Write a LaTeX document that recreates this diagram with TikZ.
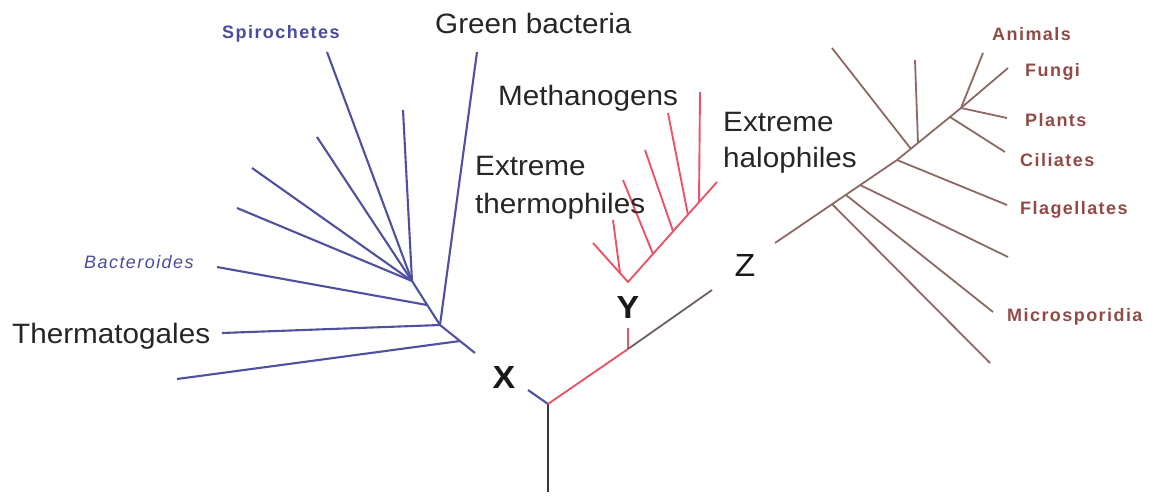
\documentclass[tikz,border=0pt]{standalone}
\usepackage{fontspec}
\setmainfont{Liberation Sans}[FakeStretch=1.06]
\newfontfamily\lblfont{Liberation Sans}[LetterSpace=8]
\definecolor{bluec}{RGB}{80,80,160}
\definecolor{redc}{RGB}{232,84,104}
\definecolor{brownc}{RGB}{140,105,100}
\definecolor{brlab}{RGB}{145,75,70}
\definecolor{bllab}{RGB}{75,75,155}
\definecolor{zc}{RGB}{110,95,95}
\definecolor{stemc}{RGB}{55,55,55}
\tikzset{
  blueline/.style={draw=bluec, line width=2.1pt},
  redline/.style={draw=redc, line width=1.9pt},
  brownline/.style={draw=brownc, line width=1.8pt},
  zline/.style={draw=zc, line width=1.8pt},
  stemline/.style={draw=stemc, line width=2.2pt},
  biglabel/.style={font=\fontsize{28}{34}\selectfont, text=black!85, inner sep=0pt, anchor=base west},
  letterlabel/.style={font=\fontsize{32}{36}\selectfont, text=black!90, inner sep=0pt},
  bluelabel/.style={font=\lblfont\bfseries\fontsize{18}{20}\selectfont, text=bllab, inner sep=0pt, anchor=base west},
  italiclabel/.style={font=\lblfont\itshape\fontsize{18}{20}\selectfont, text=bllab, inner sep=0pt, anchor=base west},
  brownlabel/.style={font=\lblfont\bfseries\fontsize{18}{20}\selectfont, text=brlab, inner sep=0pt, anchor=base west}
}
\begin{document}
\begin{tikzpicture}[x=1pt,y=-1pt]
\useasboundingbox (0,0) rectangle (1154,498);
% ---------- blue clade ----------
\coordinate (hA) at (412,281);
\coordinate (hBac) at (427,305);
\coordinate (hB) at (440,325);
\coordinate (hC) at (460,341);
\coordinate (bEnd) at (475,353);
\coordinate (xR) at (528,390);
\coordinate (root) at (548,404);
\coordinate (base) at (548,492);
\coordinate (lSpiro) at (327,52);
\coordinate (lB1) at (403,110);
\coordinate (lB2) at (317,137);
\coordinate (lB3) at (252,168);
\coordinate (lB4) at (237,208);
\coordinate (lBac) at (217,267);
\coordinate (lGreen) at (477,52);
\coordinate (lTherm) at (222,333);
\coordinate (lB5) at (177,379);
\foreach \l in {lSpiro,lB1,lB2,lB3,lB4} \draw[blueline] (\l) -- (hA);
\draw[blueline] (lBac) -- (hBac);
\draw[blueline] (lGreen) -- (hB);
\draw[blueline] (lTherm) -- (hB);
\draw[blueline] (lB5) -- (hC);
\draw[blueline] (hA) -- (hB) -- (bEnd);
\draw[blueline] (xR) -- (root);
\draw[stemline] (root) -- (base);
% ---------- red clade ----------
\coordinate (yS) at (628,349);
\coordinate (yT) at (628,328);
\coordinate (hY) at (628,282);
\coordinate (zL) at (712,290);
\coordinate (zR) at (775,243);
\draw[redline] (root) -- (yS);
\draw[redline] (yS) -- (yT);
\draw[zline] (yS) -- (zL);
\coordinate (rL) at (593,243);
\coordinate (rVj) at (620,273);
\coordinate (rV) at (613,220);
\coordinate (rE) at (717,182);
\coordinate (r2j) at (653,254);
\coordinate (r2) at (623,180);
\coordinate (r3j) at (673,231);
\coordinate (r3) at (645,150);
\coordinate (r4j) at (688,215);
\coordinate (r4) at (668,113);
\coordinate (r5j) at (699,202);
\coordinate (r5) at (700,92);
\draw[redline] (rL) -- (hY) -- (rE);
\draw[redline] (rV) -- (rVj);
\draw[redline] (r2) -- (r2j);
\draw[redline] (r3) -- (r3j);
\draw[redline] (r4) -- (r4j);
\draw[redline] (r5) -- (r5j);
% ---------- brown clade ----------
\coordinate (j1) at (832,204);
\coordinate (j2) at (846,195);
\coordinate (j3) at (860,185);
\coordinate (j4) at (897,160);
\coordinate (j5) at (911,149);
\coordinate (j5b) at (918,143);
\coordinate (j6) at (950,117);
\coordinate (top) at (961,108);
\draw[brownline] (zR) -- (j4) -- (top);
\coordinate (m1) at (990,363);
\coordinate (m2) at (993,312);
\coordinate (m3) at (1008,257);
\coordinate (mFlag) at (1007,205);
\coordinate (mLeft) at (832,48);
\coordinate (mVert) at (915,60);
\coordinate (mCil) at (1005,152);
\coordinate (mAnim) at (983,53);
\coordinate (mFung) at (1008,68);
\coordinate (mPlant) at (1007,118);
\draw[brownline] (j1) -- (m1);
\draw[brownline] (j2) -- (m2);
\draw[brownline] (j3) -- (m3);
\draw[brownline] (j4) -- (mFlag);
\draw[brownline] (mLeft) -- (j5);
\draw[brownline] (mVert) -- (j5b);
\draw[brownline] (j6) -- (mCil);
\draw[brownline] (top) -- (mAnim);
\draw[brownline] (top) -- (mFung);
\draw[brownline] (top) -- (mPlant);
% ---------- labels ----------
\node[biglabel] (tGreen) at (435,33) {Green bacteria};
\node[biglabel] (tMeth) at (498,105) {Methanogens};
\node[biglabel] (tTh1) at (475,175) {Extreme};
\node[biglabel] (tTh2) at (475,213) {thermophiles};
\node[biglabel] (tHa1) at (723,131) {Extreme};
\node[biglabel] (tHa2) at (723,167) {halophiles};
\node[biglabel] (tTherm) at (12,343) {Thermatogales};
\node[letterlabel, font=\fontsize{32}{36}\selectfont\bfseries] (tX) at (504,377) {X};
\node[letterlabel, font=\fontsize{32}{36}\selectfont\bfseries] (tY) at (628,307) {Y};
\node[letterlabel] (tZ) at (745,265) {Z};
\node[bluelabel] (tSpiro) at (222,38) {Spirochetes};
\node[italiclabel] (tBac) at (84,268) {Bacteroides};
\node[brownlabel] (tAnim) at (992,40) {Animals};
\node[brownlabel] (tFung) at (1025,76) {Fungi};
\node[brownlabel] (tPlant) at (1025,126) {Plants};
\node[brownlabel] (tCil) at (1020,166) {Ciliates};
\node[brownlabel] (tFlag) at (1020,214) {Flagellates};
\node[brownlabel] (tMicro) at (1007,321) {Microsporidia};
\end{tikzpicture}
\end{document}
